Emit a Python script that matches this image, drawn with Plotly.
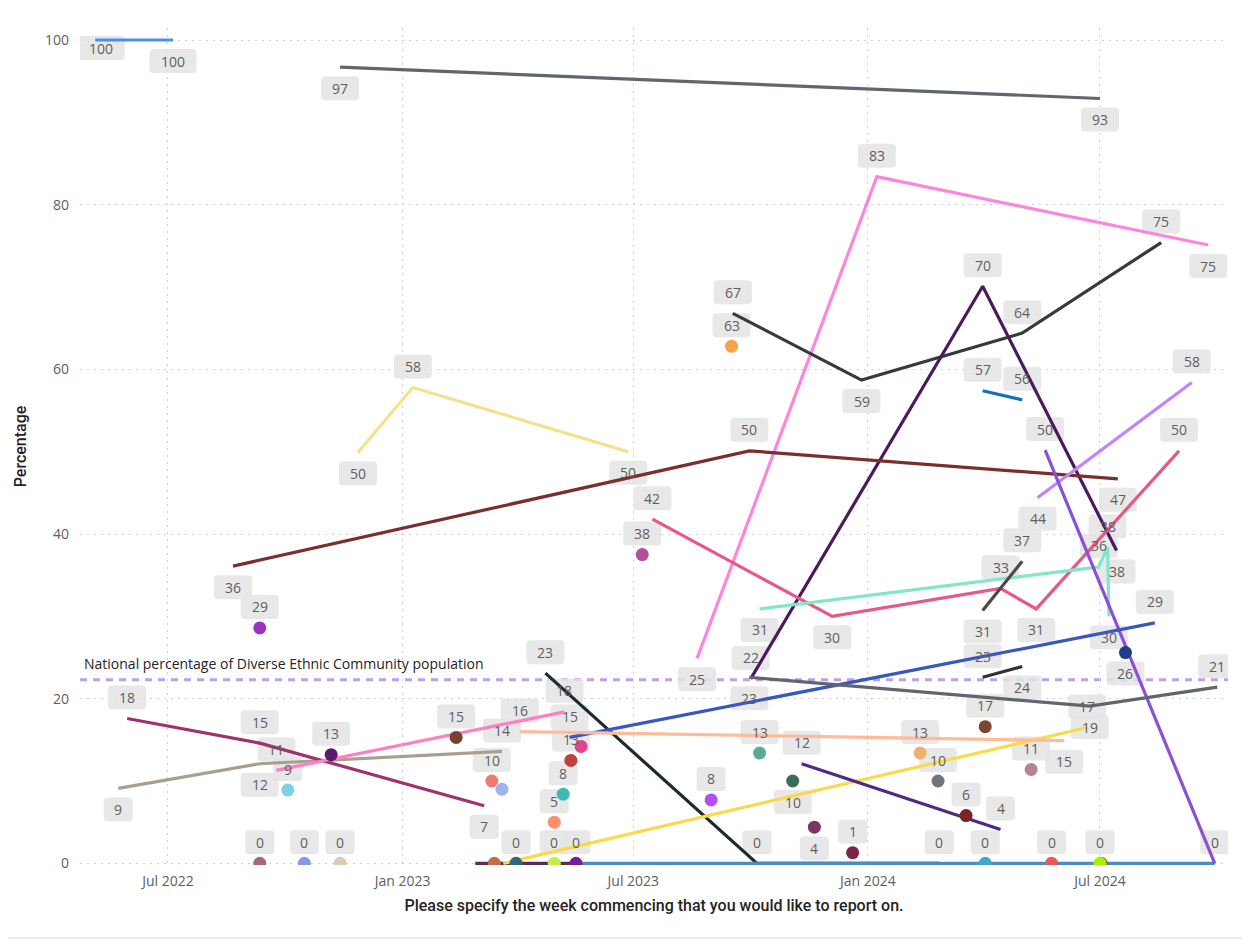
import plotly.graph_objects as go

# ---------------- axis / reference values ----------------
x_tick_dates = ["2022-07-01", "2023-01-01", "2023-07-01", "2024-01-01", "2024-07-01"]
x_tick_labels = ["Jul 2022", "Jan 2023", "Jul 2023", "Jan 2024", "Jul 2024"]
y_tick_values = [0, 20, 40, 60, 80, 100]
national_pct = 22.3
national_label = "National percentage of Diverse Ethnic Community population"
x_title = "Please specify the week commencing that you would like to report on."
y_title = "Percentage"

# ---------------- line series (week commencing, percentage) ----------------
s01_dates = ["2022-05-05", "2022-07-05"]
s01_vals = [100, 100]
s02_dates = ["2022-11-13", "2024-07-01"]
s02_vals = [96.7, 92.9]
s03_dates = ["2023-08-20", "2024-01-08", "2024-09-24"]
s03_vals = [24.9, 83.4, 75.1]
s04_dates = ["2023-09-17", "2023-12-27", "2024-05-01", "2024-08-18"]
s04_vals = [66.8, 58.7, 64.4, 75.4]
s05_dates = ["2023-10-01", "2024-03-31", "2024-07-14"]
s05_vals = [22.4, 70.1, 38.0]
s06_dates = ["2023-07-16", "2023-12-04", "2024-04-14", "2024-05-12", "2024-09-01"]
s06_vals = [41.8, 30.0, 33.4, 30.9, 50.1]
s07_dates = ["2023-10-08", "2024-06-30", "2024-07-07", "2024-07-08"]
s07_vals = [30.9, 36.0, 38.4, 30.0]
s08_dates = ["2024-03-31", "2024-05-01"]
s08_vals = [30.7, 36.7]
s09_dates = ["2024-03-31", "2024-05-01"]
s09_vals = [22.6, 23.9]
s10_dates = ["2022-08-21", "2023-09-30", "2024-07-15"]
s10_vals = [36.1, 50.1, 46.7]
s11_dates = ["2022-11-27", "2023-01-09", "2023-06-27"]
s11_vals = [49.9, 57.8, 50.0]
s12_dates = ["2024-05-13", "2024-09-11"]
s12_vals = [44.4, 58.4]
s13_dates = ["2024-05-19", "2024-09-29"]
s13_vals = [50.2, 0]
s14_dates = ["2023-05-12", "2024-08-13"]
s14_vals = [15.3, 29.2]
s15_dates = ["2023-09-30", "2024-06-23", "2024-10-01"]
s15_vals = [22.6, 19.1, 21.4]
s16_dates = ["2023-03-21", "2024-06-21"]
s16_vals = [0, 16.5]
s17_dates = ["2023-04-03", "2024-06-03"]
s17_vals = [16.0, 14.9]
s18_dates = ["2022-05-23", "2022-09-11", "2023-03-20"]
s18_vals = [9.1, 12.1, 13.6]
s19_dates = ["2022-05-30", "2022-09-11", "2023-03-06"]
s19_vals = [17.6, 14.6, 7.0]
s20_dates = ["2022-09-24", "2023-05-08"]
s20_vals = [11.3, 18.4]
s21_dates = ["2023-02-27", "2023-05-17"]
s21_vals = [0, 0]
s22_dates = ["2023-04-23", "2023-10-06", "2024-02-26"]
s22_vals = [23.1, 0, 0]
s23_dates = ["2023-05-17", "2024-09-29"]
s23_vals = [0, 0]
s24_dates = ["2024-03-31", "2024-05-01"]
s24_vals = [57.4, 56.3]
s25_dates = ["2023-11-10", "2024-04-14"]
s25_vals = [12.1, 4.1]

# ---------------- single-week series (dots) ----------------
dot_dates = ["2022-09-11", "2023-07-08", "2023-09-16", "2022-11-06", "2022-10-03",
             "2023-02-12", "2023-03-12", "2023-03-20", "2023-05-07", "2023-04-30",
             "2023-05-13", "2023-05-21", "2023-08-31", "2023-10-08", "2023-11-03",
             "2023-11-20", "2023-12-20", "2024-02-11", "2024-02-25", "2024-03-18",
             "2024-04-02", "2024-05-08", "2024-07-21",
             "2022-09-11", "2022-10-16", "2022-11-13", "2023-03-14", "2023-03-31",
             "2023-04-30", "2023-05-17", "2024-04-02", "2024-05-24", "2024-07-02",
             "2024-07-01"]
dot_vals = [28.6, 37.5, 62.8, 13.2, 8.9,
            15.3, 10.0, 9.0, 8.4, 5.0,
            12.5, 14.2, 7.7, 13.4, 10.0,
            4.4, 1.3, 13.4, 10.0, 5.8,
            16.6, 11.4, 25.6,
            0, 0, 0, 0, 0,
            0, 0, 0, 0, 0,
            0]

# ---------------- styles ----------------
# label codes: a = above, b = below, c = clamped near top, n = hidden
line_styles = [
    (s21_dates, s21_vals, "#5B2D50", "nn"),
    (s22_dates, s22_vals, "#1E2B2D", "aaa"),
    (s23_dates, s23_vals, "#4A8CC4", "nn"),
    (s01_dates, s01_vals, "#4A8EF2", "cb"),
    (s02_dates, s02_vals, "#5F666E", "bb"),
    (s03_dates, s03_vals, "#FF85DC", "bab"),
    (s04_dates, s04_vals, "#343B39", "abaa"),
    (s05_dates, s05_vals, "#4A1A5C", "aab"),
    (s06_dates, s06_vals, "#E8578A", "ababa"),
    (s07_dates, s07_vals, "#84E6C8", "baab"),
    (s08_dates, s08_vals, "#4A4848", "ba"),
    (s09_dates, s09_vals, "#2E3436", "ab"),
    (s10_dates, s10_vals, "#7B2E2E", "bab"),
    (s11_dates, s11_vals, "#F8E08A", "bab"),
    (s12_dates, s12_vals, "#C084FC", "ba"),
    (s13_dates, s13_vals, "#8A50D6", "aa"),
    (s14_dates, s14_vals, "#3A56C0", "aa"),
    (s15_dates, s15_vals, "#60666C", "bba"),
    (s16_dates, s16_vals, "#F8DA4C", "na"),
    (s17_dates, s17_vals, "#FFBB9A", "ab"),
    (s18_dates, s18_vals, "#A89F92", "bba"),
    (s19_dates, s19_vals, "#A0306E", "aab"),
    (s20_dates, s20_vals, "#FF80C0", "aa"),
    (s24_dates, s24_vals, "#1070C0", "aa"),
    (s25_dates, s25_vals, "#4E2A80", "aa"),
]
dot_colors = ["#9B35C0", "#B0509A", "#F8A34A", "#5A1A6E", "#80D0E8",
              "#7A4030", "#F07A70", "#A0B4EC", "#40B8B8", "#FF906C",
              "#C0403C", "#E04590", "#B050F5", "#5BAA94", "#3D6B5A",
              "#7A3565", "#7A2448", "#F0B070", "#70767C", "#7A2428",
              "#7A4832", "#B88090", "#1F3D8A",
              "#A86878", "#8898E8", "#DCCAB4", "#C07048", "#2D6A82",
              "#C4EC48", "#701E9A", "#45A5C8", "#E85A58", "#8B5A2B",
              "#A6F000"]
dot_label_codes = "aaaaaaanaaana" + "abb" + "aaaaaa" + "b" + "aaanaaaaana"

LABEL_FONT = "Segoe UI, Open Sans, Noto Sans, sans-serif"
TITLE_FONT = "Roboto, DIN, Noto Sans, sans-serif"

fig = go.Figure()

labels = []  # (date, value, code)

for dates, vals, color, codes in line_styles:
    fig.add_trace(go.Scatter(
        x=dates, y=vals, mode="lines",
        line=dict(color=color, width=3.2),
        hoverinfo="skip", showlegend=False,
    ))
    for d, v, c in zip(dates, vals, codes):
        labels.append((d, v, c))

fig.add_trace(go.Scatter(
    x=dot_dates, y=dot_vals, mode="markers",
    marker=dict(color=dot_colors, size=13, line=dict(width=0)),
    hoverinfo="skip", showlegend=False,
))
for d, v, c in zip(dot_dates, dot_vals, dot_label_codes):
    labels.append((d, v, c))

shapes = []
annotations = []
widths = {1: 29, 2: 38, 3: 47}
H = 24
R = 4
for d, v, c in labels:
    if c == "n":
        continue
    txt = str(int(v + 0.5))
    w = widths[len(txt)]
    dx = 0
    if c == "a":
        dy = 21
    elif c == "b":
        dy = -21
    else:
        dy = -8
        dx = 6
    x0, x1 = dx - w / 2, dx + w / 2
    y0, y1 = dy - H / 2, dy + H / 2
    path = (f"M{x0+R},{y0} L{x1-R},{y0} Q{x1},{y0} {x1},{y0+R} "
            f"L{x1},{y1-R} Q{x1},{y1} {x1-R},{y1} L{x0+R},{y1} "
            f"Q{x0},{y1} {x0},{y1-R} L{x0},{y0+R} Q{x0},{y0} {x0+R},{y0} Z")
    shapes.append(dict(
        type="path", xref="x", yref="y", xsizemode="pixel", ysizemode="pixel",
        xanchor=d, yanchor=v, path=path, fillcolor="rgba(228,228,228,0.85)",
        line=dict(width=0), layer="between",
    ))
    annotations.append(dict(
        x=d, y=v, xref="x", yref="y", text=txt, showarrow=False,
        xshift=dx, yshift=dy, font=dict(family=LABEL_FONT, size=14, color="#605E5C"),
    ))

# national reference line
shapes.append(dict(
    type="line", xref="paper", yref="y", x0=0, x1=1, y0=national_pct, y1=national_pct,
    line=dict(color="#B9A2E6", width=3, dash="7px,6px"), layer="between",
))
annotations.append(dict(
    x=0.002, y=national_pct, xref="paper", yref="y", text=national_label,
    showarrow=False, xanchor="left", yanchor="bottom", yshift=5,
    font=dict(family=LABEL_FONT, size=14, color="#252423"),
))

# faint container border at the bottom
shapes.append(dict(type="line", xref="paper", yref="paper", x0=-0.07, x1=1.03,
                   y0=-0.0872, y1=-0.0872, line=dict(color="#EBEBEB", width=2)))

GRID = "#CFCFCF"
fig.update_layout(
    width=1250, height=941,
    margin=dict(l=72, r=30, t=20, b=84),
    paper_bgcolor="white", plot_bgcolor="white",
    shapes=shapes, annotations=annotations,
    showlegend=False,
    xaxis=dict(
        type="date", range=["2022-04-23", "2024-10-09 10:00"],
        tickvals=x_tick_dates, ticktext=x_tick_labels,
        showgrid=True, gridcolor=GRID, griddash="2px,5px", gridwidth=1.2,
        zeroline=False, showline=False, ticks="",
        ticklabelstandoff=6,
        tickfont=dict(family=LABEL_FONT, size=14, color="#605E5C"),
        title=dict(text=x_title, standoff=10,
                   font=dict(family=TITLE_FONT, size=16, color="#252423", weight=500)),
    ),
    yaxis=dict(
        range=[-0.2, 101.46], tickvals=y_tick_values,
        showgrid=True, gridcolor=GRID, griddash="2px,5px", gridwidth=1.2,
        zeroline=False, showline=False, ticks="",
        tickfont=dict(family=LABEL_FONT, size=14, color="#605E5C"),
        ticklabelstandoff=10,
        title=dict(text=y_title, standoff=14,
                   font=dict(family=TITLE_FONT, size=16, color="#252423", weight=500)),
    ),
)

fig.write_html("out.html")
